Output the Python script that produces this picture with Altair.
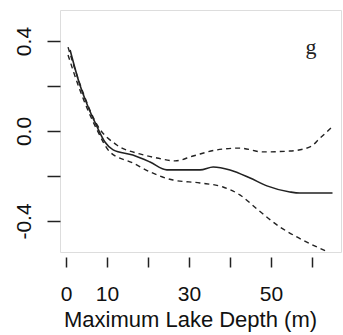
import altair as alt
import pandas as pd

# fitted smooth (solid) and pointwise bounds (dashed)
fit_x = [1.0, 3.4, 5.4, 7.6, 9.5, 11.5, 16.3, 20.5, 24.6, 32.7, 35.9, 40.0, 44.9, 49.0, 54.6, 57.0, 65.0]
fit_y = [0.36, 0.204, 0.107, 0.018, -0.049, -0.084, -0.107, -0.138, -0.173, -0.173, -0.16, -0.173, -0.209, -0.244, -0.271, -0.276, -0.276]

upper_x = [0.5, 3.4, 7.6, 12.4, 18.0, 22.2, 26.6, 31.0, 36.8, 42.4, 48.0, 54.6, 59.5, 62.0, 64.9]
upper_y = [0.373, 0.209, 0.027, -0.062, -0.102, -0.12, -0.133, -0.111, -0.084, -0.076, -0.093, -0.089, -0.071, -0.031, 0.018]

lower_x = [0.5, 3.4, 7.6, 10.7, 16.3, 20.5, 26.1, 32.7, 38.3, 42.4, 46.6, 52.2, 56.3, 60.2, 63.9]
lower_y = [0.338, 0.182, 0.004, -0.093, -0.142, -0.182, -0.218, -0.231, -0.249, -0.284, -0.347, -0.427, -0.471, -0.507, -0.538]

x_ticks = [0, 10, 20, 30, 40, 50, 60]
y_ticks = [-0.4, -0.2, 0.0, 0.2, 0.4]
panel_label = "g"
x_title = "Maximum Lake Depth (m)"

fit = pd.DataFrame({"x": fit_x, "y": fit_y})
bands = pd.concat([
    pd.DataFrame({"x": upper_x, "y": upper_y, "s": "upper"}),
    pd.DataFrame({"x": lower_x, "y": lower_y, "s": "lower"}),
])

W, H = 281, 242
xs = alt.Scale(domain=[-1.46, 67.07], nice=False, zero=False)
ys = alt.Scale(domain=[-0.538, 0.538], nice=False, zero=False)

FONT = "Liberation Sans"

xenc = alt.X("x:Q", scale=xs, axis=alt.Axis(
    values=x_ticks, domain=False, offset=5, tickSize=10, tickWidth=1.5,
    tickColor="#222", grid=False, labelFont=FONT, labelFontSize=21,
    labelColor="#111", labelPadding=16,
    labelExpr="(datum.value==0||datum.value==10||datum.value==30||datum.value==50) ? datum.label : ''",
    format="d", labelFlush=False, labelOverlap=False,
    title=x_title, titleFont=FONT, titleFontSize=22, titleFontWeight="normal",
    titleColor="#111", titlePadding=5, titleX=130, titleAlign="center"))
yenc = alt.Y("y:Q", scale=ys, axis=alt.Axis(
    values=y_ticks, domain=False, tickSize=13, tickWidth=1.5, tickColor="#222",
    grid=False, labelFont=FONT, labelFontSize=21, labelColor="#111",
    labelAngle=270, labelAlign="center", labelBaseline="bottom", labelPadding=13,
    labelExpr="datum.value > 0.3 ? '0.4' : (datum.value < -0.3 ? '-0.4' : (abs(datum.value) < 0.01 ? '0.0' : ''))",
    labelOverlap=False, labelFlush=False, title=None))

solid = alt.Chart(fit).mark_line(color="#222", strokeWidth=1.6, interpolate="monotone").encode(
    x=xenc, y=yenc)
dashed = alt.Chart(bands).mark_line(color="#222", strokeWidth=1.4, strokeDash=[5, 4],
                                    interpolate="monotone").encode(
    x=alt.X("x:Q", scale=xs), y=alt.Y("y:Q", scale=ys), detail="s:N")
label = alt.Chart(pd.DataFrame({"t": [panel_label]})).mark_text(
    font="Liberation Serif", fontSize=22, color="#222", align="center", baseline="middle").encode(
    x=alt.value(251), y=alt.value(37), text="t:N")

chart = alt.layer(solid, dashed, label).properties(
    width=W, height=H,
    autosize=alt.AutoSizeParams(type="none"),
    padding={"left": 60, "top": 10, "right": 2, "bottom": 83},
).configure_view(stroke="#222", strokeWidth=1.5).configure(background="white")

chart.save("out.html", embed_options={"renderer": "svg", "actions": False})
